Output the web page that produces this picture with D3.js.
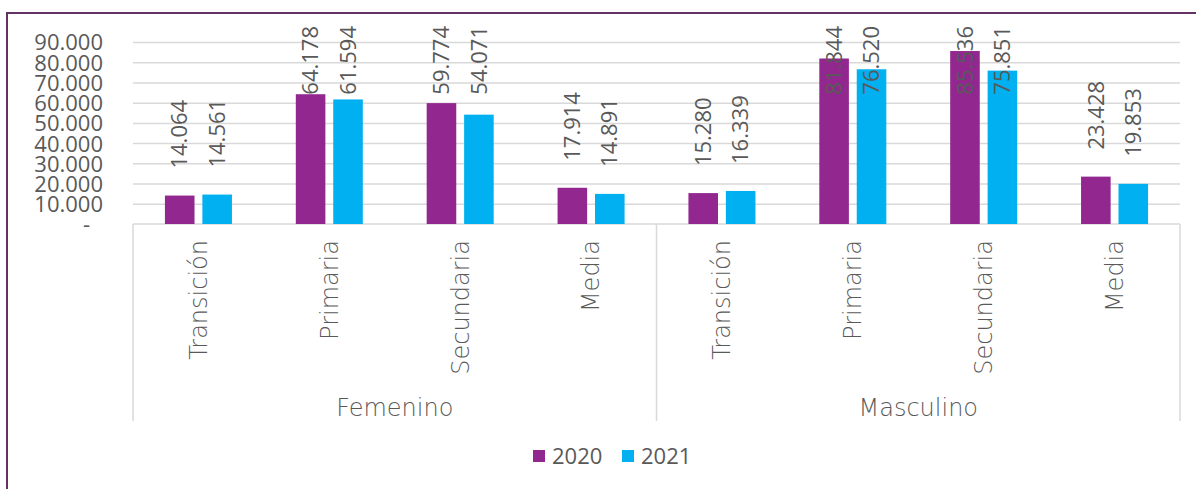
<!DOCTYPE html>
<html>
<head>
<meta charset="utf-8">
<script src="https://cdn.jsdelivr.net/npm/d3@7"></script>
<style>
  body { margin: 0; background: #fff; }
  text { font-family: "Open Sans", "Liberation Sans", sans-serif; fill: #595959; }
  text.word { font-family: "DejaVu Sans", sans-serif; font-weight: 200; }
</style>
</head>
<body>
<script>
// data
var groups = ["Femenino", "Masculino"];
var levels = ["Transición", "Primaria", "Secundaria", "Media"];
var series = ["2020", "2021"];
var values2020 = [14064, 64178, 59774, 17914, 15280, 81844, 85536, 23428];
var values2021 = [14561, 61594, 54071, 14891, 16339, 76520, 75851, 19853];
var yTicks = [0, 10000, 20000, 30000, 40000, 50000, 60000, 70000, 80000, 90000];
var colors = {"2020": "#92278F", "2021": "#00B0F0"};

var W = 1196, H = 489;
var plot = {left: 133, right: 1180, top: 42, bottom: 224};

// one entry per category (group + level)
var cats = [];
groups.forEach(function(g) {
    levels.forEach(function(l) { cats.push({group: g, level: l, key: g + "|" + l}); });
});
var rows = cats.map(function(c, i) {
    return {key: c.key, level: c.level, group: c.group,
            vals: [{s: "2020", v: values2020[i]}, {s: "2021", v: values2021[i]}]};
});

var fmt = d3.formatLocale({decimal: ",", thousands: ".", grouping: [3], currency: ["", ""]}).format(",d");

var svg = d3.select("body").append("svg")
    .attr("width", W)
    .attr("height", H);

// frame
svg.append("rect")
    .attr("x", 7).attr("y", 13)
    .attr("width", W + 20).attr("height", H + 20)
    .attr("fill", "none")
    .attr("stroke", "#643264")
    .attr("stroke-width", 2);

var x0 = d3.scaleBand()
    .domain(cats.map(function(c) { return c.key; }))
    .range([plot.left, plot.right])
    .paddingInner(0.488)
    .paddingOuter(0.244);

var x1 = d3.scaleBand()
    .domain(series)
    .range([0, x0.bandwidth()])
    .paddingInner(0.21);

var y = d3.scaleLinear()
    .domain([0, 90000])
    .range([plot.bottom, plot.top]);

// gridlines
svg.append("g")
    .attr("transform", "translate(" + plot.left + ",0)")
    .call(d3.axisLeft(y).tickValues(yTicks.slice(1)).tickSize(-(plot.right - plot.left)).tickFormat(""))
    .call(function(g) { g.select(".domain").remove(); })
    .selectAll("line").attr("stroke", "#D9D9D9").attr("stroke-width", 1.5);

// y axis labels
var yAxis = svg.append("g")
    .attr("transform", "translate(103,0)")
    .call(d3.axisLeft(y).tickValues(yTicks).tickSize(0).tickPadding(0)
        .tickFormat(function(d) { return d === 0 ? "-" : fmt(d); }));
yAxis.select(".domain").remove();
yAxis.selectAll("text")
    .style("font-size", "22px")
    .style("font-family", null)
    .attr("fill", "#595959")
    .attr("dy", "0.36em")
    .attr("x", function(d) { return d === 0 ? -13 : 0; });
yAxis.attr("font-family", null);

// category axis lines
var axisCol = "#D9D9D9";
svg.append("line")
    .attr("x1", plot.left).attr("x2", plot.right)
    .attr("y1", plot.bottom).attr("y2", plot.bottom)
    .attr("stroke", axisCol).attr("stroke-width", 1.5);
var sepX = [plot.left, (plot.left + plot.right) / 2, plot.right];
svg.selectAll(".sep")
    .data(sepX)
    .enter().append("line")
    .attr("class", "sep")
    .attr("x1", function(d) { return d; }).attr("x2", function(d) { return d; })
    .attr("y1", plot.bottom).attr("y2", 421)
    .attr("stroke", axisCol).attr("stroke-width", 1.5);

// bars
var cat = svg.selectAll(".cat")
    .data(rows)
    .enter().append("g")
    .attr("class", "cat")
    .attr("transform", function(d) { return "translate(" + x0(d.key) + ",0)"; });

cat.selectAll("rect")
    .data(function(d) { return d.vals; })
    .enter().append("rect")
    .attr("x", function(d) { return x1(d.s); })
    .attr("width", x1.bandwidth())
    .attr("y", function(d) { return y(d.v); })
    .attr("height", function(d) { return y(0) - y(d.v); })
    .attr("fill", function(d) { return colors[d.s]; });

// value labels, rotated, kept inside the chart area
cat.selectAll(".val")
    .data(function(d) { return d.vals; })
    .enter().append("text")
    .attr("class", "val")
    .style("font-size", "22px")
    .attr("text-anchor", "start")
    .attr("dy", "0.35em")
    .text(function(d) { return fmt(d.v); })
    .attr("transform", function(d) {
        var len = this.getComputedTextLength();
        var yb = Math.max(y(d.v) - 27, 26 + len);
        return "translate(" + (x1(d.s) + x1.bandwidth() / 2) + "," + yb + ") rotate(-90)";
    });

// level labels
svg.selectAll(".lvl")
    .data(rows)
    .enter().append("text")
    .attr("class", "lvl word")
    .style("font-size", "24px")
    .attr("text-anchor", "end")
    .attr("dy", "0.35em")
    .attr("transform", function(d) {
        return "translate(" + (x0(d.key) + x0.bandwidth() / 2) + ",240) rotate(-90)";
    })
    .text(function(d) { return d.level; });

// group labels
svg.selectAll(".grp")
    .data(groups)
    .enter().append("text")
    .attr("class", "grp word")
    .style("font-size", "24px")
    .attr("text-anchor", "middle")
    .attr("x", function(d, i) { return (sepX[i] + sepX[i + 1]) / 2; })
    .attr("y", 416)
    .text(function(d) { return d; });

// legend
var legend = svg.selectAll(".leg")
    .data(series)
    .enter().append("g")
    .attr("class", "leg")
    .attr("transform", function(d, i) { return "translate(" + (533 + i * 89) + ",450)"; });
legend.append("rect")
    .attr("width", 12).attr("height", 12)
    .attr("fill", function(d) { return colors[d]; });
legend.append("text")
    .attr("x", 19).attr("y", 6)
    .attr("dy", "0.36em")
    .style("font-size", "22px")
    .text(function(d) { return d; });
</script>
</body>
</html>
